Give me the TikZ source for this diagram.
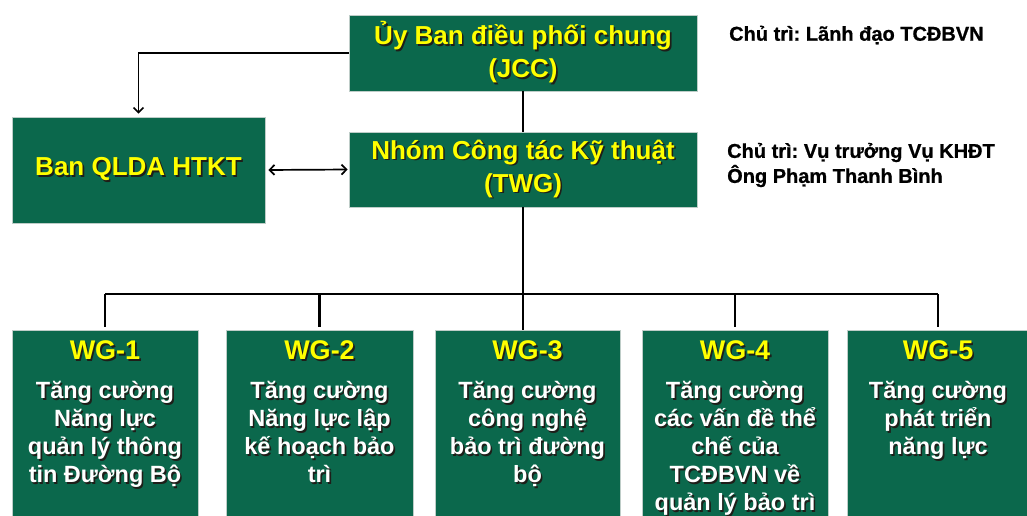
\documentclass[tikz,border=0pt]{standalone}
\usepackage{fontspec}
\setmainfont{Liberation Sans}
\usetikzlibrary{arrows.meta}
\frenchspacing

\definecolor{boxgreen}{RGB}{11,104,76}
\definecolor{boxedge}{RGB}{190,205,200}
\definecolor{headyellow}{RGB}{255,255,0}
\definecolor{dropshade}{RGB}{30,30,25}

% text with a small dark drop shadow behind it
\newcommand\shtx[1]{\leavevmode\rlap{\kern1.6pt\raisebox{-1.6pt}{\textcolor{dropshade}{#1}}}#1}

\begin{document}
\begin{tikzpicture}[x=1pt,y=-1pt,
  greenbox/.style={draw=boxedge,line width=0.6pt,fill=boxgreen,inner sep=0pt},
  headtxt/.style={text=headyellow,font=\bfseries\fontsize{26}{33}\selectfont,align=center},
  wgbox/.style={greenbox,anchor=north,minimum height=200pt},
  wgtitle/.style={text=headyellow,font=\bfseries\fontsize{27}{32}\selectfont,inner sep=0pt},
  wgbody/.style={text=white,font=\bfseries\fontsize{23.5}{28}\selectfont,align=center,inner sep=0pt,anchor=north},
  chairtxt/.style={text=black,font=\bfseries\addfontfeature{FakeBold=0.8}\fontsize{20}{25}\selectfont,align=left,inner sep=0pt,anchor=west},
  link/.style={draw=black,line width=2.6pt},
  thinlink/.style={draw=black,line width=1.7pt},
  barb/.tip={Straight Barb[length=5pt,width=10pt]}
]
\useasboundingbox (0,0) rectangle (1027,515);
\fill[white] (0,0) rectangle (1027,515);

% steering and technical level
\node[greenbox,headtxt,minimum width=348pt,minimum height=76pt] (jcc) at (523,53)
  {\shtx{Ủy Ban điều phối chung}\\\shtx{(JCC)}};
\node[greenbox,headtxt,minimum width=253pt,minimum height=106pt] (ban) at (138.5,170)
  {\shtx{Ban QLDA HTKT}};
\node[greenbox,headtxt,minimum width=348pt,minimum height=75pt] (twg) at (523,169.5)
  {\shtx{Nhóm Công tác Kỹ thuật}\\\shtx{(TWG)}};

% chair notes
\node[chairtxt] (chair1) at (729,35) {Chủ trì: Lãnh đạo TCĐBVN};
\node[chairtxt] (chair2) at (727,165) {Chủ trì: Vụ trưởng Vụ KHĐT\\Ông Phạm Thanh Bình};

% working groups
\node[wgbox,minimum width=186pt] (wg1) at (105,330) {};
\node[wgbox,minimum width=187pt] (wg2) at (319.5,330) {};
\node[wgbox,minimum width=185pt] (wg3) at (527.5,330) {};
\node[wgbox,minimum width=186pt] (wg4) at (735,330) {};
\node[wgbox,minimum width=182pt] (wg5) at (938,330) {};

\node[wgtitle] (wg1t) at ([yshift=-21pt]wg1.north) {\shtx{WG-1}};
\node[wgtitle] (wg2t) at ([yshift=-21pt]wg2.north) {\shtx{WG-2}};
\node[wgtitle] (wg3t) at ([yshift=-21pt]wg3.north) {\shtx{WG-3}};
\node[wgtitle] (wg4t) at ([yshift=-21pt]wg4.north) {\shtx{WG-4}};
\node[wgtitle] (wg5t) at ([yshift=-21pt]wg5.north) {\shtx{WG-5}};

\node[wgbody] (wg1b) at ([yshift=-51pt]wg1.north)
  {\shtx{Tăng cường}\\\shtx{Năng lực}\\\shtx{quản lý thông}\\\shtx{tin Đường Bộ}};
\node[wgbody] (wg2b) at ([yshift=-51pt]wg2.north)
  {\shtx{Tăng cường}\\\shtx{Năng lực lập}\\\shtx{kế hoạch bảo}\\\shtx{trì}};
\node[wgbody] (wg3b) at ([yshift=-51pt]wg3.north)
  {\shtx{Tăng cường}\\\shtx{công nghệ}\\\shtx{bảo trì đường}\\\shtx{bộ}};
\node[wgbody] (wg4b) at ([yshift=-51pt]wg4.north)
  {\shtx{Tăng cường}\\\shtx{các vấn đề thể}\\\shtx{chế của}\\\shtx{TCĐBVN về}\\\shtx{quản lý bảo trì}};
\node[wgbody] (wg5b) at ([yshift=-51pt]wg5.north)
  {\shtx{Tăng cường}\\\shtx{phát triển}\\\shtx{năng lực}};

% connectors
\coordinate (bus) at (523,294);
\draw[thinlink,-{barb}] (jcc.west) -| ([yshift=3pt]ban.north);
\draw[thinlink,{barb}-{barb},shorten <=3pt,shorten >=1pt] (ban.east) -- (twg.west);
\draw[link] (jcc.south) -- (twg.north);
\draw[link] (twg.south) -- (twg.south |- wg3.north);
\draw[link] (wg1.north |- bus) -- (wg5.north |- bus);
\draw[link,shorten >=3pt] (wg1.north |- bus) -- (wg1.north);
\draw[link,shorten >=3pt] (wg2.north |- bus) -- (wg2.north);
\draw[link,shorten >=3pt] (wg4.north |- bus) -- (wg4.north);
\draw[link,shorten >=3pt] (wg5.north |- bus) -- (wg5.north);
\end{tikzpicture}
\end{document}
